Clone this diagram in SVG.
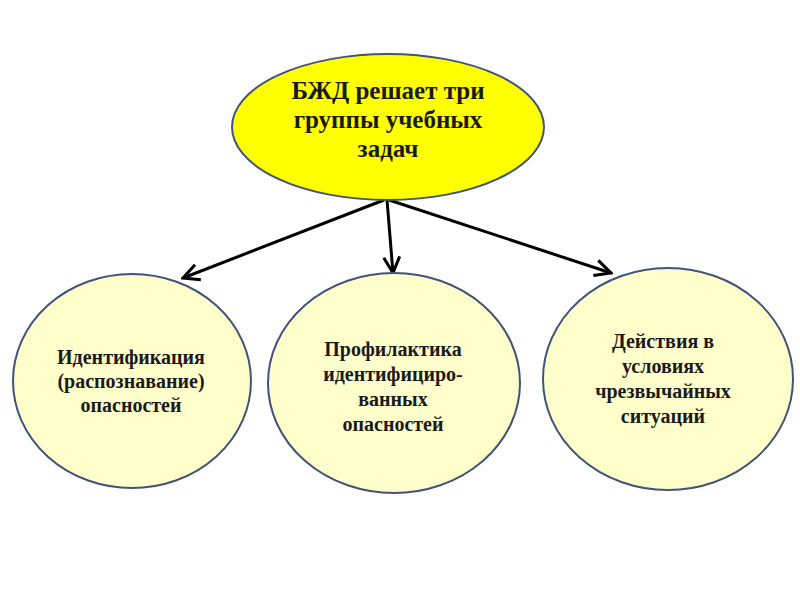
<svg xmlns="http://www.w3.org/2000/svg" width="800" height="600" viewBox="0 0 800 600">
<defs>
<marker id="ah" viewBox="0 0 10 10" refX="9" refY="5" markerWidth="6" markerHeight="6" markerUnits="userSpaceOnUse" orient="auto">
<path d="M0,0 L10,5 L0,10 L3,5 Z" fill="#000"/>
</marker>
<style>
.top{fill:#FFFF00;stroke:#3F5478;stroke-width:2}
.sub{fill:#FFFFCC;stroke:#3F5478;stroke-width:2}
text{font-family:"Liberation Serif","Times New Roman",serif;font-weight:bold;fill:#1a1a1a;text-anchor:middle}
.t1{font-size:25px}
.t2{font-size:20px}
.c{stroke:#000;stroke-width:3;fill:none}
</style>
<marker id="a" viewBox="0 0 20 20" refX="18" refY="10" markerWidth="20" markerHeight="20" markerUnits="userSpaceOnUse" orient="auto">
<path d="M2,2 L18,10 L2,18" fill="none" stroke="#000" stroke-width="3" stroke-linejoin="miter"/>
</marker>
</defs>
<rect width="800" height="600" fill="#fff"/>
<g id="connectors">
<line class="c" x1="384" y1="200" x2="183" y2="278" marker-end="url(#a)"/>
<line class="c" x1="387" y1="200" x2="393" y2="273" marker-end="url(#a)"/>
<line class="c" x1="389" y1="200" x2="611" y2="273" marker-end="url(#a)"/>
</g>
<g id="node-main">
<ellipse class="top" cx="388" cy="127" rx="156" ry="73"/>
<text class="t1" x="388" y="99">БЖД решает три</text>
<text class="t1" x="388" y="128">группы учебных</text>
<text class="t1" x="388" y="157">задач</text>
</g>
<g id="node-identification">
<ellipse class="sub" cx="132" cy="381" rx="119" ry="107"/>
<text class="t2" x="131" y="364">Идентификация</text>
<text class="t2" x="131" y="388">(распознавание)</text>
<text class="t2" x="131" y="412">опасностей</text>
</g>
<g id="node-prevention">
<ellipse class="sub" cx="394" cy="383" rx="126" ry="110"/>
<text class="t2" x="393" y="356">Профилактика</text>
<text class="t2" x="393" y="381">идентифициро-</text>
<text class="t2" x="393" y="406">ванных</text>
<text class="t2" x="393" y="431">опасностей</text>
</g>
<g id="node-emergency">
<ellipse class="sub" cx="668" cy="379" rx="125" ry="111"/>
<text class="t2" x="663" y="348">Действия в</text>
<text class="t2" x="663" y="373">условиях</text>
<text class="t2" x="663" y="398">чрезвычайных</text>
<text class="t2" x="663" y="423">ситуаций</text>
</g>
</svg>
